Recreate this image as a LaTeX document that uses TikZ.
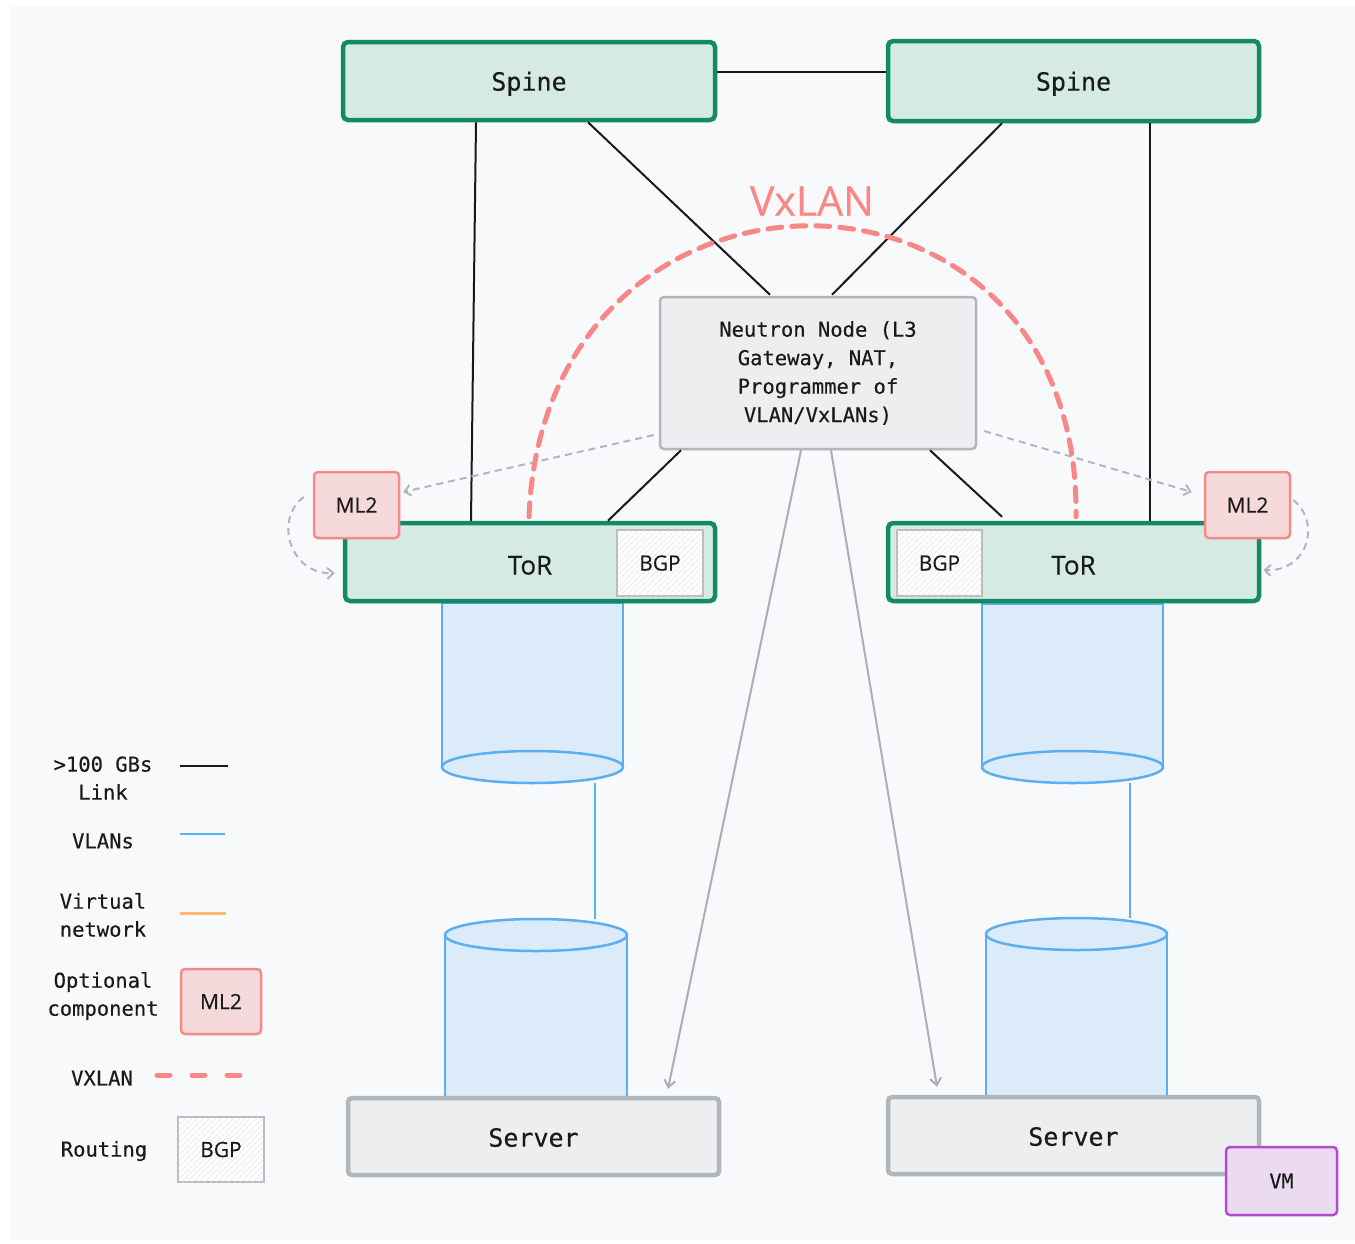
\documentclass[tikz,border=0pt]{standalone}
\usepackage{fontspec}
\setmonofont{DejaVu Sans Mono}[FakeBold=0.35]
\newfontfamily\sansf{Open Sans}[FakeBold=0.4]
\usetikzlibrary{arrows.meta,patterns.meta}
\definecolor{bgc}{HTML}{F8F9FB}
\definecolor{grn}{HTML}{138A63}
\definecolor{grnfill}{HTML}{D4EAE3}
\definecolor{gbord}{HTML}{B1B6BB}
\definecolor{gfill}{HTML}{EDEEF0}
\definecolor{mlfill}{HTML}{F6D9DB}
\definecolor{mlbord}{HTML}{F38B8B}
\definecolor{vx}{HTML}{F88787}
\definecolor{bgpbord}{HTML}{B8BCC0}
\definecolor{cylfill}{HTML}{DCEBF9}
\definecolor{cylbord}{HTML}{5BAEF0}
\definecolor{vmfill}{HTML}{EBDAF0}
\definecolor{vmbord}{HTML}{B14CCF}
\definecolor{orng}{HTML}{FDBA6F}
\definecolor{arrg}{HTML}{A9AFB5}
\definecolor{txt}{HTML}{1A1A1A}
\tikzset{
  spinebox/.style={draw=grn, line width=4.5pt, fill=grnfill, rounded corners=5pt, inner sep=0pt, text=txt},
  greybox/.style={draw=gbord, fill=gfill, rounded corners=4pt, inner sep=0pt, text=txt},
  mlbox/.style={draw=mlbord, line width=2.5pt, fill=mlfill, rounded corners=4pt, inner sep=0pt, minimum width=85pt, minimum height=66pt, font=\sansf\fontsize{21}{24}\selectfont, text=txt},
  bgpbox/.style={draw=bgpbord, line width=2.5pt, fill=white, postaction={pattern={Lines[angle=45,distance=4pt,line width=0.6pt]}, pattern color=gray!30}, inner sep=0pt, minimum height=66pt, font=\sansf\fontsize{21}{24}\selectfont, text=txt},
  link/.style={draw=black!90, line width=2pt},
  vlan/.style={draw=cylbord, line width=2.5pt},
  garrow/.style={draw=arrg, line width=2pt, -{Straight Barb[length=7pt,width=11pt,line width=2pt]}},
  gdash/.style={draw=arrg!90, line width=2pt, dash pattern=on 7pt off 5pt, -{Straight Barb[length=6pt,width=11pt,line width=2pt]}},
  vxl/.style={draw=vx, line width=5pt, dash pattern=on 14pt off 10pt, line cap=round},
  cyl/.style={draw=cylbord, line width=2.5pt, fill=cylfill},
  legtext/.style={font=\ttfamily\fontsize{20.5}{28}\selectfont, align=center, text=txt},
  spinetext/.style={font=\ttfamily\fontsize{25}{30}\selectfont, text height=24.6pt, text depth=5.4pt},
  servtext/.style={font=\ttfamily\fontsize{25}{30}\selectfont, text height=20.3pt, text depth=0pt},
  tortext/.style={font=\sansf\fontsize{26}{30}\selectfont, text height=25pt, text depth=0pt},
}
\begin{document}
\begin{tikzpicture}[x=1pt,y=-1pt]
\useasboundingbox (0,0) rectangle (1355,1243);
\fill[white] (0,0) rectangle (1355,1243);
\fill[bgc] (10,6) rectangle (1355,1240);

% cylinders (left)
\draw[cyl] (442,603) rectangle (623,767);
\draw[cyl] (532.5,767) ellipse [x radius=90.5, y radius=16];
\draw[cyl] (445,1100) -- (445,935) -- (627,935) -- (627,1100);
\draw[cyl] (536,935) ellipse [x radius=91, y radius=16];
% cylinders (right)
\draw[cyl] (982,604) rectangle (1163,767);
\draw[cyl] (1072.5,767) ellipse [x radius=90.5, y radius=16];
\draw[cyl] (986,1100) -- (986,934) -- (1167,934) -- (1167,1100);
\draw[cyl] (1076.5,934) ellipse [x radius=90.5, y radius=16];

\coordinate (vlA1) at (595,783);
\coordinate (vlA2) at (595,919);
\coordinate (vlB1) at (1130,783);
\coordinate (vlB2) at (1130,918);
\draw[vlan] (vlA1) -- (vlA2);
\draw[vlan] (vlB1) -- (vlB2);

% spines
\node[spinebox, minimum width=372pt, minimum height=78pt, spinetext] (sp1) at (529,81) {Spine};
\node[spinebox, minimum width=371pt, minimum height=80pt, spinetext] (sp2) at (1073.5,81) {Spine};

% neutron
\node[greybox, line width=2.5pt, minimum width=316pt, minimum height=152pt, align=center, font=\ttfamily\fontsize{20.5}{28.5}\selectfont] (neu) at (818,373) {Neutron Node (L3\\Gateway, NAT,\\Programmer of\\VLAN/VxLANs)};

% ToRs
\node[spinebox, minimum width=370pt, minimum height=78pt, tortext] (torL) at (530,562) {ToR};
\node[spinebox, minimum width=371pt, minimum height=78pt, tortext] (torR) at (1073.5,562) {ToR};
\node[bgpbox, minimum width=86pt] (bgpL) at (660,563) {BGP};
\node[bgpbox, minimum width=85pt] (bgpR) at (939.5,563) {BGP};

% ML2
\node[mlbox] (mlL) at (356.5,505) {ML2};
\node[mlbox] (mlR) at (1247.5,505) {ML2};

% servers
\node[greybox, line width=4.5pt, minimum width=371pt, minimum height=77pt, servtext] (srvL) at (533.5,1136.5) {Server};
\node[greybox, line width=4.5pt, minimum width=371pt, minimum height=77pt, servtext] (srvR) at (1073.5,1135.5) {Server};
\node[draw=vmbord, line width=2.5pt, fill=vmfill, rounded corners=4pt, minimum width=111pt, minimum height=68pt, inner sep=0pt, font=\ttfamily\fontsize{20}{24}\selectfont, text=txt] (vm) at (1281.5,1181) {VM};

% links
\draw[link] ([yshift=9pt]sp1.east) -- ([yshift=9pt]sp2.west);
\draw[link] ([xshift=-53pt]sp1.south) -- ([xshift=-59pt]torL.north);
\draw[link] ([xshift=59pt]sp1.south) -- ([xshift=-48pt,yshift=1pt]neu.north);
\draw[link] ([xshift=-71.5pt]sp2.south) -- ([xshift=14pt,yshift=1pt]neu.north);
\draw[link] ([xshift=76.5pt]sp2.south) -- ([xshift=76.5pt]torR.north);
\draw[link] ([xshift=-137pt]neu.south) -- ([xshift=78pt]torL.north);
\draw[link] ([xshift=112pt]neu.south) -- ([xshift=-71.5pt,yshift=4pt]torR.north);

% grey arrows to servers
\draw[garrow] ([xshift=-17pt]neu.south) -- ([xshift=134.5pt,yshift=7pt]srvL.north);
\draw[garrow] ([xshift=13pt]neu.south) -- ([xshift=-136.5pt,yshift=8pt]srvR.north);

% dashed arrows to ML2
\draw[gdash] ([yshift=-62pt,xshift=-5pt]neu.west) -- ([xshift=3pt,yshift=13pt]mlL.east);
\draw[gdash] ([yshift=-58pt,xshift=7pt]neu.east) -- ([xshift=-12pt,yshift=13pt]mlR.west);
\draw[gdash] ([xshift=-9pt,yshift=8pt]mlL.west) .. controls +(-30,22) and +(-45,2) .. ([xshift=-8pt,yshift=-11pt]torL.west);
\draw[gdash] ([xshift=2pt,yshift=5pt]mlR.east) .. controls +(28,22) and +(45,2) .. ([xshift=2pt,yshift=-8pt]torR.east);

% VxLAN arc
\draw[vxl] ([xshift=-1pt,yshift=4pt]torL.north) .. controls +(15,-388) and +(5,-388) .. ([xshift=2.5pt,yshift=4pt]torR.north);
\node[font=\sansf\fontsize{41}{44}\selectfont, text=vx] (vxt) at (812,201) {VxLAN};

% legend
\node[legtext] (lg1) at (103,778) {>100 GBs\\Link};
\coordinate (l1a) at (180,766); \coordinate (l1b) at (228,766);
\draw[link] (l1a) -- (l1b);
\node[legtext] (lg2) at (103,841) {VLANs};
\coordinate (l2a) at (180,834); \coordinate (l2b) at (225,834);
\draw[vlan] (l2a) -- (l2b);
\node[legtext] (lg3) at (103,915) {Virtual\\network};
\coordinate (l3a) at (180,913); \coordinate (l3b) at (226,913);
\draw[draw=orng, line width=3pt] (l3a) -- (l3b);
\node[legtext] (lg4) at (103,996) {Optional\\component};
\node[mlbox, minimum width=80pt, minimum height=65pt] (lgml) at (221,1001.5) {ML2};
\node[legtext] (lg5) at (102,1078) {VXLAN};
\coordinate (l5a) at (157,1075); \coordinate (l5b) at (242,1075);
\draw[draw=vx, line width=5pt, dash pattern=on 13pt off 22pt, line cap=round] (l5a) -- (l5b);
\node[legtext] (lg6) at (104,1151) {Routing};
\node[bgpbox, minimum width=86pt, minimum height=65pt] (lgbgp) at (221,1149.5) {BGP};
\end{tikzpicture}
\end{document}
